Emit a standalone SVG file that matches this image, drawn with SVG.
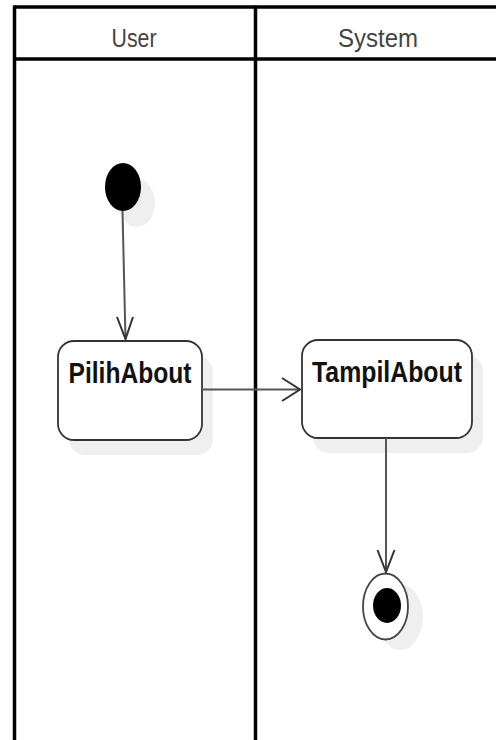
<svg xmlns="http://www.w3.org/2000/svg" width="496" height="740" viewBox="0 0 496 740">
  <defs>
    <style>
      .lane { fill: none; stroke: #000; stroke-width: 3.5; }
      .lane-title { font-family: "Liberation Sans", Arial, sans-serif; font-size: 25px; fill: #444; text-anchor: middle; }
      .action { fill: #fff; stroke: #333; stroke-width: 1.8; }
      .action-label { font-family: "Liberation Sans", Arial, sans-serif; font-weight: bold; font-size: 29px; fill: #111; text-anchor: middle; }
      .shadow { fill: #efefef; stroke: none; }
      .flow { fill: none; stroke: #555; stroke-width: 2; }
      .head { fill: none; stroke: #333; stroke-width: 2; stroke-linejoin: miter; }
    </style>
  </defs>

  <rect width="496" height="740" fill="#fff"/>

  <!-- swimlanes -->
  <g id="lanes">
    <line class="lane" x1="14" y1="7" x2="500" y2="7"/>
    <line class="lane" x1="14" y1="59" x2="500" y2="59"/>
    <line class="lane" x1="14.5" y1="5.5" x2="14.5" y2="740"/>
    <line class="lane" x1="255.5" y1="5.5" x2="255.5" y2="740" stroke-width="4"/>
    <text class="lane-title" x="134" y="47" textLength="45" lengthAdjust="spacingAndGlyphs">User</text>
    <text class="lane-title" x="378" y="47" textLength="80" lengthAdjust="spacingAndGlyphs">System</text>
  </g>

  <!-- initial node -->
  <g id="start">
    <ellipse class="shadow" cx="137" cy="203" rx="18" ry="24"/>
    <ellipse cx="123" cy="187" rx="18" ry="24" fill="#000"/>
  </g>

  <!-- action: PilihAbout -->
  <g id="pilihAbout">
    <rect class="shadow" x="69" y="356" width="144" height="99" rx="16"/>
    <rect class="action" x="58" y="341" width="144" height="99" rx="16"/>
    <text class="action-label" x="130" y="383" textLength="123" lengthAdjust="spacingAndGlyphs">PilihAbout</text>
  </g>

  <!-- action: TampilAbout -->
  <g id="tampilAbout">
    <rect class="shadow" x="313" y="355" width="170" height="98" rx="16"/>
    <rect class="action" x="302" y="340" width="170" height="98" rx="16"/>
    <text class="action-label" x="387" y="382" textLength="150" lengthAdjust="spacingAndGlyphs">TampilAbout</text>
  </g>

  <!-- final node -->
  <g id="end">
    <ellipse class="shadow" cx="400" cy="617" rx="23" ry="33"/>
    <ellipse cx="385.5" cy="606.5" rx="22.5" ry="33" fill="#fff" stroke="#444" stroke-width="1.8"/>
    <ellipse cx="387" cy="605.5" rx="14" ry="17.5" fill="#000"/>
  </g>

  <!-- control flows -->
  <g id="connectors">
    <line class="flow" x1="122.5" y1="211" x2="125.5" y2="339"/>
    <polyline class="head" points="117,317 125.5,339 133,317"/>

    <line class="flow" x1="202" y1="389.5" x2="300" y2="389.5"/>
    <polyline class="head" points="282,378 300,389.5 282,401"/>

    <line class="flow" x1="386" y1="438" x2="386" y2="572"/>
    <polyline class="head" points="377.5,550 386,572 394.5,550"/>
  </g>
</svg>
